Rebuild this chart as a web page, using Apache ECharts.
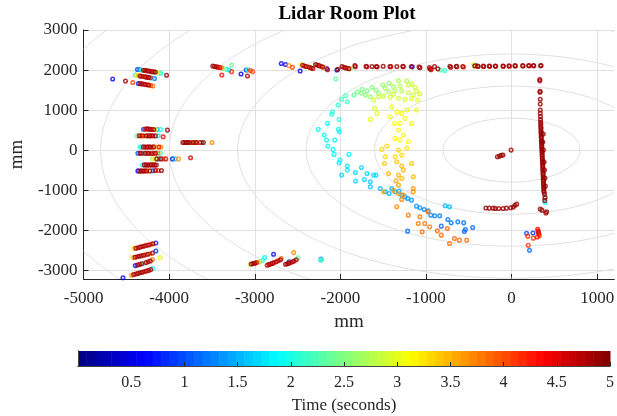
<!DOCTYPE html>
<html>
<head>
<meta charset="utf-8">
<script src="https://cdn.jsdelivr.net/npm/echarts@6/dist/echarts.min.js"></script>
<style>
  html, body { margin: 0; padding: 0; background: #fff; }
  #chart { width: 617px; height: 416px; }
</style>
</head>
<body>
<div id="chart"></div>
<script>
// lidar returns: [x mm, y mm, time s]
const leftUpper = [
  [-4660,1775,0.7],[-4510,1725,4.8],[-4425,1690,4.1],
  [-4370,2015,0.9],[-4345,2012,1.3],[-4322,2000,2.2],[-4300,1995,4.9],[-4280,1990,4.7],[-4262,1985,4.5],[-4242,1975,4.9],[-4222,1968,4.3],[-4202,1960,4.8],[-4182,1955,4.6],[-4162,1948,5.0],[-4142,1944,3.2],[-4120,1935,2.4],[-4100,1920,1.9],[-4030,1870,4.9],
  [-4395,1875,2.0],[-4380,1870,3.0],[-4360,1862,3.4],[-4340,1852,4.9],[-4320,1846,4.6],[-4300,1840,4.2],[-4280,1830,4.8],[-4262,1822,4.5],[-4242,1815,5.0],[-4220,1806,4.4],[-4200,1800,1.8],[-4170,1790,1.1],
  [-4360,1665,0.8],[-4340,1660,4.9],[-4320,1655,4.7],[-4300,1648,4.4],[-4280,1640,4.8],[-4260,1634,4.2],[-4240,1625,4.9],[-4215,1615,4.0],[-4190,1600,3.8]
];
const leftUpper2 = [
  [-3490,2100,4.9],[-3470,2090,4.7],[-3450,2082,4.8],[-3430,2072,4.3],[-3410,2062,4.5],[-3390,2055,3.9],[-3365,2040,2.7],[-3330,2020,2.0],[-3300,2000,1.7],[-3270,1960,4.2],
  [-3270,2125,2.4],[-3385,1875,4.3],[-3160,1900,0.6],[-3085,1850,4.8],[-3100,2000,0.9],[-3080,2005,2.0],[-3050,1990,4.1],[-3025,1960,4.0]
];
const topWall = [
  [-2690,2165,0.6],[-2640,2140,0.7],[-2600,2110,3.6],[-2560,2070,4.1],[-2470,1975,0.5],[-2460,2140,2.9],[-2440,2120,4.8],[-2420,2100,4.3],[-2400,2090,4.9],[-2380,2080,3.5],[-2360,2070,4.7],[-2340,2050,4.9],[-2320,2040,4.6],
  [-2290,2140,4.9],[-2270,2125,4.6],[-2250,2110,4.9],[-2230,2095,4.1],[-2210,2080,4.9],[-2190,2060,3.7],[-2160,2040,0.7],[-2150,2010,4.8],
  [-2040,2000,0.5],[-2030,2020,4.9],[-1980,2090,4.9],[-1960,2070,4.5],[-1940,2055,4.9],[-1920,2045,4.2],[-1900,2035,4.9],[-1880,2030,2.6],
  [-1830,2110,4.9],[-1825,2085,4.7],[-1700,2095,4.9],[-1690,2080,4.6],[-1630,2090,4.9],[-1580,2090,4.9],[-1570,2080,4.8],[-1500,2095,4.9],[-1420,2090,4.9],[-1410,2085,4.5],[-1340,2090,4.9],[-1270,2095,4.9],[-1265,2085,4.7],[-1170,2090,4.9],[-1160,2080,0.7],
  [-1080,2075,4.9],[-1070,2060,4.7],[-960,2060,4.6],[-950,2030,4.9],[-940,2010,4.4],[-900,2085,4.9],[-860,2030,4.9],[-830,2000,2.3],[-780,1990,2.1],[-720,2095,4.9],[-710,2070,4.8],[-645,2095,4.9],[-640,2085,4.7],[-570,2090,4.9],[-560,2075,4.1],
  [-445,2130,3.0],[-430,2100,4.9],[-425,2120,0.8],[-395,2100,4.9],[-390,2090,4.8],[-330,2100,4.9],[-325,2090,4.7],[-260,2100,4.9],[-255,2092,4.8],[-190,2100,4.9],[-185,2092,4.7],[-100,2100,4.9],[-95,2092,4.8],
  [-30,2105,4.9],[-25,2095,4.7],[40,2110,4.9],[45,2100,4.8],[130,2110,4.9],[135,2100,4.7],[200,2115,4.9],[205,2105,4.8],[255,2115,4.9],[260,2105,4.7],[345,2115,4.9],[340,2105,4.8]
];
const rightWall = [
  [330,1765,4.9],[330,1730,4.8],[333,1470,4.9],[333,1445,4.9],[335,1270,4.9],[335,1150,4.9],[336,1000,4.9],[336,920,4.8],[338,840,4.9],[338,760,4.9],
  [340,700,4.9],[342,650,4.9],[340,600,4.7],[345,560,4.9],[342,510,4.9],[346,460,4.8],[344,420,4.9],[348,380,4.9],[346,330,4.9],[350,290,4.6],
  [348,240,4.9],[352,200,4.9],[350,160,4.8],[354,110,4.9],[352,70,4.9],[356,30,4.9],[354,-20,4.7],[358,-60,4.9],[356,-110,4.9],[360,-150,4.8],
  [358,-200,4.9],[362,-240,4.9],[360,-290,4.9],[364,-330,4.6],[362,-380,4.9],[366,-420,4.9],[364,-470,4.8],[368,-510,4.9],[366,-560,4.9],[370,-600,4.9],
  [368,-650,4.7],[372,-690,4.9],[370,-740,4.9],[374,-780,4.8],[372,-830,4.9],[376,-870,4.9],[374,-920,4.9],[378,-960,4.9],[376,-1010,4.8],[380,-1050,4.9],
  [370,400,5.0],[380,-300,5.0],[390,-700,5.0],[395,-900,5.0],[365,200,5.0],[372,0,4.9],[385,-500,4.9],
  [385,-1100,4.9],[395,-1170,2.1],[392,-1300,1.9],[390,-1190,4.9],[388,-1260,4.9],[335,-1470,4.9],[355,-1500,4.9],[410,-1540,4.9],[400,-1570,4.8]
];
const innerWall = [
  [-300,-1445,4.9],[-260,-1450,4.9],[-215,-1450,4.8],[-190,-1460,4.9],[-150,-1460,4.9],[-100,-1460,4.9],[-60,-1450,4.9],[-10,-1440,4.9],[20,-1420,4.9],[40,-1380,4.9],[60,-1350,4.9],
  [-165,-165,4.9],[-140,-150,4.9],[-120,-130,4.9],[-100,-125,4.9],[-5,0,4.9]
];
const lowerRight = [
  [175,-2080,1.0],[250,-2070,0.9],[190,-2150,4.2],[255,-2200,4.1],[305,-1980,4.4],[310,-2020,4.3],[315,-2060,4.5],[320,-2100,4.2],[325,-2140,4.0],[300,-2170,4.3],[195,-2380,4.1],[210,-2500,1.1]
];
const leftRows = [
  [-4300,520,1.0],[-4280,525,4.3],[-4260,530,4.9],[-4240,525,4.6],[-4220,520,4.9],[-4200,515,4.2],[-4180,515,4.8],[-4160,520,3.1],[-4140,515,1.2],[-4100,515,2.0],[-4020,500,4.9],
  [-4375,355,2.4],[-4350,360,4.9],[-4330,360,4.1],[-4310,360,4.6],[-4290,355,3.0],[-4270,360,4.9],[-4250,360,4.3],[-4230,355,4.8],[-4210,360,4.5],[-4190,360,4.9],[-4160,355,4.7],[-4130,360,1.8],[-4070,335,4.4],
  [-3840,190,4.9],[-3820,190,4.7],[-3800,190,4.9],[-3780,190,4.8],[-3760,190,4.9],[-3740,190,3.6],[-3720,190,4.9],[-3700,190,4.2],[-3680,190,4.9],[-3660,190,2.8],[-3640,190,4.5],[-3620,190,1.2],[-3600,190,4.9],[-3500,190,3.7],
  [-4340,75,2.1],[-4320,75,1.7],[-4300,80,4.9],[-4280,75,4.4],[-4260,75,4.9],[-4240,80,4.6],[-4220,75,4.9],[-4200,75,4.1],[-4180,80,4.8],[-4150,75,3.2],[-4120,75,4.3],[-4095,75,3.6],
  [-4365,-80,1.0],[-4340,-80,4.9],[-4320,-80,4.5],[-4300,-85,1.9],[-4280,-80,4.9],[-4260,-80,4.2],[-4240,-80,4.9],[-4210,-85,4.7],[-4185,-80,4.3],[-4160,-80,4.9],[-4130,-80,3.8],[-4100,-80,2.2],
  [-4195,-220,2.6],[-4170,-220,3.0],[-4145,-220,4.9],[-4120,-220,1.4],[-4095,-220,4.8],[-4070,-220,3.9],[-4040,-220,4.6],[-3960,-220,0.5],[-3930,-220,1.6],[-3890,-220,3.6],[-3750,-190,4.6],
  [-4310,-370,2.0],[-4290,-370,4.9],[-4270,-370,4.7],[-4250,-375,4.9],[-4230,-370,4.6],[-4210,-370,4.9],[-4190,-370,4.4],[-4170,-370,4.9],[-4150,-375,4.8],
  [-4365,-520,0.6],[-4345,-525,4.9],[-4325,-520,4.7],[-4305,-525,4.9],[-4285,-520,4.4],[-4265,-520,4.9],[-4245,-525,3.1],[-4225,-520,4.9],[-4190,-515,0.9],[-4160,-510,4.7],[-4130,-510,4.2],[-4090,-510,4.9]
];
const bottomLeft = [
  [-4415,-2460,3.2],[-4390,-2450,4.9],[-4365,-2440,4.4],[-4340,-2425,4.9],[-4315,-2410,4.6],[-4290,-2395,4.9],[-4265,-2380,4.3],[-4240,-2370,4.9],[-4215,-2355,4.1],[-4190,-2340,4.8],[-4155,-2320,0.8],
  [-4425,-2685,3.4],[-4400,-2675,4.9],[-4375,-2665,4.5],[-4350,-2650,4.9],[-4325,-2640,4.7],[-4300,-2625,4.9],[-4275,-2615,4.2],[-4250,-2600,4.9],[-4225,-2590,3.9],[-4195,-2570,4.8],[-4155,-2520,0.9],[-4105,-2685,3.0],
  [-4395,-2885,0.7],[-4370,-2870,4.9],[-4345,-2855,4.6],[-4320,-2840,4.9],[-4295,-2825,2.2],[-4270,-2810,4.9],[-4245,-2790,4.4],[-4220,-2770,4.9],[-4195,-2735,3.8],
  [-4440,-3125,3.6],[-4415,-3110,4.9],[-4390,-3095,4.5],[-4365,-3080,4.9],[-4340,-3065,4.7],[-4315,-3050,4.9],[-4290,-3035,4.3],[-4265,-3020,4.9],[-4240,-3005,4.6],[-4215,-2985,4.9],[-4190,-2960,1.9],[-4540,-3190,0.6]
];
const bottomMid = [
  [-3055,-2850,2.8],[-3040,-2845,4.9],[-3020,-2835,4.7],[-3000,-2825,4.9],[-2980,-2810,4.5],[-2960,-2800,3.4],[-2940,-2785,2.5],[-2910,-2760,2.1],[-2885,-2685,1.8],
  [-2855,-2875,4.5],[-2835,-2860,4.9],[-2815,-2845,4.6],[-2795,-2830,4.9],[-2775,-2810,4.3],[-2750,-2790,4.9],[-2725,-2765,4.4],[-2700,-2740,4.9],[-2690,-2710,3.9],[-2780,-2600,0.7],
  [-2640,-2850,4.9],[-2620,-2840,4.6],[-2600,-2825,4.9],[-2580,-2810,4.2],[-2560,-2790,4.9],[-2540,-2770,4.5],[-2515,-2740,4.8],[-2495,-2690,2.3],[-2545,-2560,3.7],[-2600,-2790,0.9],
  [-2230,-2750,2.0],[-2225,-2720,1.2],[-2220,-2740,2.2]
];
const arcCyan = [
  [-2054,1775,2.4],[-1939,1358,2.25],[-1919,1208,2.15],[-1985,1267,2.2],[-2027,1125,2.1],[-2092,958,2.05],[-2100,900,2.0],[-2150,667,1.95],[-2258,517,1.9],[-2188,375,1.9],
  [-2162,250,1.85],[-2146,100,1.9],[-2066,250,1.85],[-2023,517,2.0],[-2012,458,1.95],[-2015,767,2.05],[-2085,17,1.85],[-2073,-108,1.8],[-2004,-250,1.8],[-2015,-317,1.75],
  [-1900,-108,1.8],[-1919,-400,1.75],[-1985,-625,1.7],[-1919,-500,1.75],[-1823,-558,1.7],[-1754,-433,1.7],[-1823,-775,1.65],[-1719,-733,1.65],[-1688,-583,1.7],[-1611,-625,1.65],
  [-1584,-625,1.65],[-1650,-792,1.6],[-1650,-917,1.6],[-1534,-958,1.55],[-1476,-1042,1.5],[-1430,-1083,1.5],[-1399,-958,1.55],[-1360,-1042,1.5],[-1314,-1025,1.5],[-1283,-1125,1.45],
  [-1245,-1167,1.45],[-1214,-1208,1.4],[-1168,-1250,1.4],[-1110,-1400,1.35],[-1071,-1442,1.35],[-1021,-1483,1.3],[-975,-1517,1.3],[-944,-1625,1.25],[-898,-1642,1.25],[-840,-1642,1.2],
  [-775,-1392,1.5],[-725,-1417,1.5],[-744,-1733,1.2],[-705,-1817,1.2],[-628,-1792,1.2],[-559,-1817,1.15],[-821,-1900,1.15],[-540,-1983,1.15],[-551,-2033,1.1],[-454,-1933,1.1],[-1214,-2025,1.1]
];
const cloudGreen = [
  [-1842,1375,2.4],[-1803,1458,2.45],[-1754,1417,2.5],[-1707,1375,2.55],[-1650,1333,2.6],[-1746,1517,2.45],[-1688,1483,2.45],[-1630,1567,2.5],[-1584,1500,2.55],[-1553,1417,2.6],
  [-1503,1625,2.6],[-1476,1542,2.65],[-1437,1458,2.7],[-1430,1667,2.6],[-1379,1583,2.7],[-1360,1483,2.75],[-1321,1733,2.7],[-1302,1600,2.75],[-1283,1483,2.8],[-1225,1733,2.8],
  [-1206,1625,2.85],[-1168,1650,2.85],[-1129,1567,2.9],[-1110,1483,2.9],[-1071,1400,2.95],
  [-1611,1250,2.9],[-1553,1333,2.85],[-1495,1350,2.85],[-1418,1317,2.9],[-1321,1292,2.95],[-1245,1267,2.95],[-1168,1292,3.0],[-1098,1250,3.0],[-1206,1433,2.85],[-1148,1375,2.85],[-1379,1392,2.85]
];
const columnYellow = [
  [-1650,767,3.0],[-1572,917,3.0],[-1599,1042,2.95],[-1399,1083,3.0],[-1341,958,3.05],[-1283,917,3.05],[-1225,1000,3.0],[-1110,1000,3.0],[-1168,667,3.1],[-1245,792,3.1],
  [-1303,667,3.1],[-1368,667,3.1],[-1418,833,3.05],[-1321,500,3.15],[-1264,375,3.2],[-1360,292,3.2],[-1303,250,3.2],[-1206,208,3.2],[-1225,42,3.25],[-1514,17,3.3],
  [-1457,100,3.3],[-1321,0,3.3],[-1283,-125,3.35],[-1360,-167,3.35],[-1476,-167,3.35],[-1484,-333,3.4],[-1341,-292,3.4],[-1283,-400,3.45],[-1168,-333,3.4],[-1148,-667,3.5],
  [-1264,-500,3.45],[-1321,-625,3.5],[-1437,-583,3.5],[-1349,-767,3.55],[-1321,-875,3.55],[-1283,-708,3.5],[-1148,-958,3.6],[-1148,-1042,3.6],[-1495,-1042,3.55],[-1379,-1000,3.6],
  [-1321,-1083,3.6],[-1264,-1125,3.65],[-1283,-1233,3.7]
];
const tailOrange = [
  [-1341,-1417,3.7],[-1206,-1625,3.75],[-1071,-1667,3.75],[-975,-1542,3.75],[-1090,-1833,3.8],[-1014,-1833,3.8],[-956,-1917,3.8],[-867,-2017,3.85],[-821,-2125,3.85],[-751,-1958,3.85],
  [-725,-2333,3.9],[-667,-2208,3.9],[-609,-2250,3.9],[-524,-2250,3.9],[-1044,-2042,3.85]
];

// background range rings (mm) and colour scale
const ringRadii = [800, 1600, 2400, 3200, 4000, 4800, 5600];
const tMin = 0, tMax = 5, nColors = 64;

function jet(v) {
  const c = (a) => Math.max(0, Math.min(1, a));
  const r = c(1.5 - Math.abs(4 * v - 3));
  const g = c(1.5 - Math.abs(4 * v - 2));
  const b = c(1.5 - Math.abs(4 * v - 1));
  return 'rgb(' + Math.round(r * 255) + ',' + Math.round(g * 255) + ',' + Math.round(b * 255) + ')';
}
function timeColor(t) {
  let i = Math.floor((t - tMin) / (tMax - tMin) * nColors);
  i = Math.max(0, Math.min(nColors - 1, i));
  return jet((i + 0.5) / nColors);
}

const allPoints = [].concat(leftUpper, leftUpper2, topWall, rightWall, innerWall, lowerRight,
  leftRows, bottomLeft, bottomMid, arcCyan, cloudGreen, columnYellow, tailOrange)
  .sort((a, b) => a[2] - b[2]);

const cells = [];
for (let i = 0; i < nColors; i++) {
  cells.push([tMin + (tMax - tMin) * i / nColors, tMin + (tMax - tMin) * (i + 1) / nColors, i]);
}

const font = 'Liberation Serif';
const ink = '#262626';
const plain = (v) => String(v);

const chart = echarts.init(document.getElementById('chart'));
chart.setOption({
  animation: false,
  backgroundColor: '#fff',
  graphic: [{
    type: 'text', x: 347, y: 5,
    style: { text: 'Lidar Room Plot', font: 'bold 19px "Liberation Serif"', fill: '#000', textAlign: 'center' }
  }],
  grid: [
    { left: 79, top: 30, width: 536, height: 249 },
    { left: 78, top: 351, width: 536, height: 15 }
  ],
  xAxis: [
    {
      gridIndex: 0, type: 'value', min: -5000, max: 1200, interval: 1000,
      name: 'mm', nameLocation: 'middle', nameGap: 34,
      nameTextStyle: { fontFamily: font, fontSize: 19, color: ink },
      axisLine: { show: true, onZero: false, lineStyle: { color: ink, width: 1 } },
      axisTick: { inside: true, length: 5, lineStyle: { color: ink } },
      axisLabel: { fontFamily: font, fontSize: 17, color: ink, margin: 11, showMaxLabel: false, formatter: plain },
      splitLine: { show: true, showMaxLine: false, lineStyle: { color: '#e0e0e0' } }
    },
    {
      gridIndex: 1, type: 'value', min: tMin, max: tMax, interval: 0.5,
      name: 'Time (seconds)', nameLocation: 'middle', nameGap: 31,
      nameTextStyle: { fontFamily: font, fontSize: 17, color: ink },
      axisLine: { show: true, lineStyle: { color: '#444', width: 1 } },
      axisTick: { inside: true, length: 4, lineStyle: { color: ink } },
      axisLabel: { fontFamily: font, fontSize: 16, color: ink, margin: 9, showMinLabel: false, formatter: plain },
      splitLine: { show: false }
    },
    {
      gridIndex: 1, type: 'value', min: tMin, max: tMax, position: 'top',
      axisLine: { show: true, lineStyle: { color: '#444', width: 1 } },
      axisTick: { show: false }, axisLabel: { show: false }, splitLine: { show: false }
    }
  ],
  yAxis: [
    {
      gridIndex: 0, type: 'value', min: -3220, max: 3000, minInterval: 1000, maxInterval: 1000,
      name: 'mm', nameLocation: 'middle', nameGap: 52,
      nameTextStyle: { fontFamily: font, fontSize: 19, color: ink },
      axisLine: { show: true, onZero: false, lineStyle: { color: ink, width: 1 } },
      axisTick: { inside: true, length: 5, lineStyle: { color: ink } },
      axisLabel: { fontFamily: font, fontSize: 17, color: ink, margin: 6, showMinLabel: false, formatter: plain },
      splitLine: { show: true, showMinLine: false, lineStyle: { color: '#e0e0e0' } }
    },
    {
      gridIndex: 1, type: 'value', min: 0, max: 1,
      axisLine: { show: true, lineStyle: { color: '#444', width: 1 } },
      axisTick: { show: false }, axisLabel: { show: false }, splitLine: { show: false }
    },
    {
      gridIndex: 1, type: 'value', min: 0, max: 1, position: 'right',
      axisLine: { show: true, lineStyle: { color: '#444', width: 1 } },
      axisTick: { show: false }, axisLabel: { show: false }, splitLine: { show: false }
    }
  ],
  series: [
    {
      type: 'custom', xAxisIndex: 0, yAxisIndex: 0, silent: true, z: 1,
      data: ringRadii.map(r => [0, 0, r]),
      renderItem: function (params, api) {
        const r = api.value(2);
        const c = api.coord([0, 0]);
        const s = api.size([r, r]);
        const cs = params.coordSys;
        return {
          type: 'ellipse',
          shape: { cx: c[0], cy: c[1], rx: s[0], ry: s[1] },
          style: { fill: 'none', stroke: '#e0e0e0', lineWidth: 1 },
          clipPath: { type: 'rect', shape: { x: cs.x, y: cs.y, width: cs.width, height: cs.height } }
        };
      }
    },
    {
      type: 'scatter', xAxisIndex: 0, yAxisIndex: 0, silent: true,
      symbol: 'circle', symbolSize: 3.6,
      itemStyle: { color: 'rgba(255,255,255,0)', borderWidth: 1.5 },
      data: allPoints.map(p => ({ value: p, itemStyle: { borderColor: timeColor(p[2]) } }))
    },
    {
      type: 'custom', xAxisIndex: 1, yAxisIndex: 1, silent: true, z: -1,
      data: cells,
      renderItem: function (params, api) {
        const p0 = api.coord([api.value(0), 1]);
        const p1 = api.coord([api.value(1), 0]);
        return {
          type: 'rect',
          shape: { x: p0[0], y: p0[1], width: p1[0] - p0[0] + 0.5, height: p1[1] - p0[1] },
          style: { fill: jet((api.value(2) + 0.5) / nColors) }
        };
      }
    }
  ]
});
</script>
</body>
</html>
